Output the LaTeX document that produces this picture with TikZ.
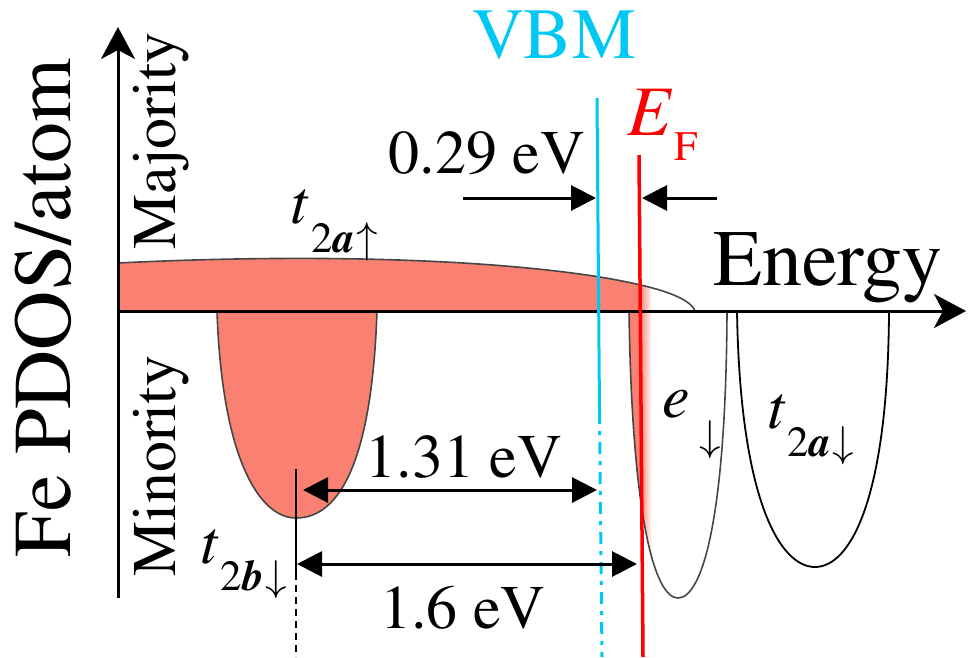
\documentclass[tikz,border=0pt]{standalone}
\usepackage[T1]{fontenc}
\usepackage{mathptmx}
\usetikzlibrary{arrows.meta}
\definecolor{salmonfill}{RGB}{250,128,114}
\definecolor{vbmcyan}{RGB}{0,200,245}
\definecolor{curvegray}{RGB}{70,70,70}
\tikzset{
  axisline/.style={line width=3pt,-{Stealth[length=32pt,width=34pt,inset=9pt]}},
  tri/.tip={Triangle[length=25pt,width=25pt]},
  dimline/.style={line width=3pt},
  lobe/.style={line width=1.6pt,draw=curvegray},
  lbl/.style={inner sep=0pt,font=\fontsize{62}{70}\selectfont},
}
\newcommand{\subtxt}[1]{{\fontsize{43}{50}\selectfont #1}}
\newcommand{\uparr}{\ensuremath{\uparrow}}
\newcommand{\dnarr}{\ensuremath{\downarrow}}
\begin{document}
\begin{tikzpicture}[x=1pt,y=-1pt]
\useasboundingbox (0,0) rectangle (968,657);

% ---- majority band fill
\begin{scope}
  \clip (118,311) -- (118,263) .. controls (300,254) and (480,258) .. (600,277)
        .. controls (660,287) and (690,298) .. (695,311) -- cycle;
  \fill[salmonfill] (110,240) rectangle (640,315);
  \shade[left color=salmonfill,right color=white] (639.5,240) rectangle (652,315);
\end{scope}
% ---- t2b lobe fill
\fill[salmonfill] (217,311) .. controls (222,460) and (260,518) .. (296,518)
      .. controls (340,518) and (372,460) .. (377,311) -- cycle;
% ---- e lobe fill
\begin{scope}
  \clip (629,311) .. controls (632,520) and (655,598) .. (678,598)
        .. controls (702,598) and (726,520) .. (727,311) -- cycle;
  \fill[salmonfill] (620,305) rectangle (640,610);
  \shade[left color=salmonfill,right color=white] (639.5,305) rectangle (652,610);
\end{scope}

% ---- outlines
\draw[lobe] (118,263) .. controls (300,254) and (480,258) .. (600,277)
      .. controls (660,287) and (690,298) .. (695,311);
\draw[lobe] (217,311) .. controls (222,460) and (260,518) .. (296,518)
      .. controls (340,518) and (372,460) .. (377,311);
\draw[lobe] (629,311) .. controls (632,520) and (655,598) .. (678,598)
      .. controls (702,598) and (726,520) .. (727,311);
\draw[line width=1.8pt,black] (737,311) .. controls (740,500) and (780,567) .. (815,567)
      .. controls (850,567) and (888,500) .. (889,311);

% ---- coordinates
\coordinate (origin) at (118,311);
\coordinate (ytip) at (118,27);
\coordinate (ybot) at (118,598);
\coordinate (xtip) at (966,311);
\coordinate (vbmtop) at (597,98);
\coordinate (vbmmid) at (599.5,412);
\coordinate (vbmbot) at (602,657);
\coordinate (eftop) at (639,155);
\coordinate (efbot) at (643,657);
\coordinate (tbtop) at (296,469);
\coordinate (tbmid) at (296,573);
\coordinate (tbbot) at (296,657);
\coordinate (a1s) at (463,198);
\coordinate (a1e) at (596,198);
\coordinate (a2s) at (717,198);
\coordinate (a2e) at (642,198);
\coordinate (b1s) at (303,490);
\coordinate (b1e) at (597,490);
\coordinate (b2s) at (297,564);
\coordinate (b2e) at (637,564);

% ---- axes
\draw[axisline] (ybot) -- (ytip);
\draw[axisline] (origin) -- (xtip);

% ---- VBM and EF lines
\draw[vbmcyan,line width=3pt] (vbmtop) -- (vbmmid);
\draw[vbmcyan,line width=3pt,dash pattern=on 12pt off 7pt on 4pt off 7pt] (vbmmid) -- (vbmbot);
\draw[red,line width=3.5pt] (eftop) -- (efbot);

% ---- t2b marker line
\draw[line width=2.5pt] (tbtop) -- (tbmid);
\draw[line width=2.5pt,dash pattern=on 7pt off 5pt] (tbmid) -- (tbbot);

% ---- dimension arrows
\draw[dimline,-{tri}] (a1s) -- (a1e);
\draw[dimline,-{tri}] (a2s) -- (a2e);
\draw[dimline,{tri}-{tri}] (b1s) -- (b1e);
\draw[dimline,{tri}-{tri}] (b2s) -- (b2e);

% ---- labels
\node[inner sep=0pt,rotate=90,anchor=base,font=\fontsize{82}{90}\selectfont] (ylab) at (70,308) {Fe PDOS/atom};
\node[lbl,rotate=90,anchor=base] (maj) at (175,141) {Majority};
\node[lbl,rotate=90,anchor=base] (min) at (175,466) {Minority};
\node[inner sep=0pt,anchor=base west,font=\fontsize{80}{90}\selectfont] (energy) at (713,285) {Energy};
\node[inner sep=0pt,anchor=base,text=vbmcyan,font=\fontsize{72}{80}\selectfont] (vbm) at (554,58) {VBM};
\node[inner sep=0pt,anchor=base west,text=red,font=\fontsize{71}{80}\selectfont] (ef) at (627,135)
  {\textit{E}\kern2pt\raisebox{-25pt}{\fontsize{42}{50}\selectfont F}};
\node[lbl,anchor=base] (d029) at (487,173) {0.29 eV};
\node[lbl,anchor=base] (d131) at (464,477) {1.31 eV};
\node[lbl,anchor=base] (d16) at (463,628) {1.6 eV};
\node[lbl,anchor=base west] (t2aup) at (290,223)
  {\textit{t}\kern3pt\raisebox{-29pt}{\subtxt{2\textbf{\textit{a}}\kern2pt\uparr}}};
\node[lbl,anchor=base west] (t2bdn) at (200,563)
  {\textit{t}\kern2pt\raisebox{-27pt}{\subtxt{2\textbf{\textit{b}}\kern2pt\dnarr}}};
\node[lbl,anchor=base west] (edn) at (662,417)
  {\textit{e}\kern10pt\raisebox{-33pt}{\subtxt{\dnarr}}};
\node[lbl,anchor=base west] (t2adn) at (767,428)
  {\textit{t}\kern2pt\raisebox{-28pt}{\subtxt{2\textbf{\textit{a}}\kern2pt\dnarr}}};
\end{tikzpicture}
\end{document}
